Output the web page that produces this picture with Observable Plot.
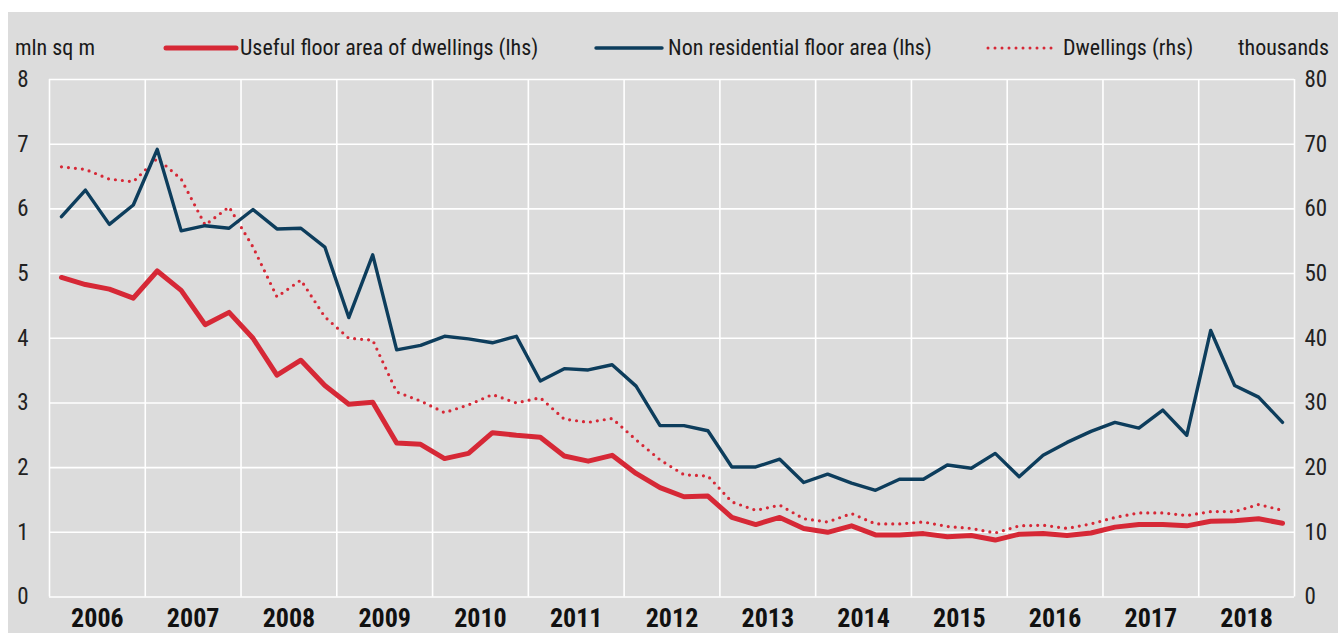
<!DOCTYPE html>
<html>
<head>
<meta charset="utf-8">
<script src="https://cdn.jsdelivr.net/npm/d3@7"></script>
<script src="https://cdn.jsdelivr.net/npm/@observablehq/plot@0.6"></script>
<style>
  html, body { margin: 0; padding: 0; background: #ffffff; }
  #wrap { position: relative; width: 1338px; height: 633px; overflow: hidden; background: #ffffff;
          font-family: "Liberation Sans Narrow", "Arial Narrow", "Roboto Condensed", "DejaVu Sans Condensed", sans-serif; }
  #panel { position: absolute; left: 8px; top: 12px; width: 1330px; height: 621px; background: #dcdcdc; }
  #legend { position: absolute; left: 0; top: 0; width: 1330px; height: 60px; font-size: 22px; color: #1a1a1a; }
  .lg { position: absolute; top: 24px; white-space: nowrap; line-height: 24px; }
  .sw { position: absolute; top: 24px; height: 24px; }
  #chart { position: absolute; left: -1px; top: 48px; }
</style>
</head>
<body>
<div id="wrap">
  <div id="panel">
    <div id="legend"></div>
    <div id="chart"></div>
  </div>
</div>
<script>
// ---- Data (quarterly, 2006Q1 .. 2018Q4) ----
const years = [2006, 2007, 2008, 2009, 2010, 2011, 2012, 2013, 2014, 2015, 2016, 2017, 2018];
const quarterNames = ["Q1", "Q2", "Q3", "Q4"];

// Useful floor area of dwellings (lhs, mln sq m)
const usefulFloorArea = [
  4.94, 4.83, 4.76, 4.62,
  5.04, 4.74, 4.21, 4.40,
  4.00, 3.43, 3.66, 3.27,
  2.98, 3.01, 2.38, 2.36,
  2.14, 2.22, 2.54, 2.50,
  2.47, 2.18, 2.10, 2.19,
  1.91, 1.69, 1.55, 1.56,
  1.23, 1.12, 1.23, 1.06,
  1.00, 1.10, 0.96, 0.96,
  0.98, 0.93, 0.95, 0.88,
  0.97, 0.98, 0.95, 0.99,
  1.08, 1.12, 1.12, 1.10,
  1.17, 1.18, 1.21, 1.14
];

// Non residential floor area (lhs, mln sq m)
const nonResidentialArea = [
  5.88, 6.29, 5.76, 6.06,
  6.92, 5.66, 5.74, 5.70,
  5.99, 5.69, 5.70, 5.41,
  4.32, 5.29, 3.82, 3.89,
  4.03, 3.99, 3.93, 4.03,
  3.34, 3.53, 3.51, 3.59,
  3.26, 2.65, 2.65, 2.57,
  2.01, 2.01, 2.13, 1.77,
  1.90, 1.76, 1.65, 1.82,
  1.82, 2.04, 1.99, 2.22,
  1.86, 2.19, 2.39, 2.56,
  2.70, 2.61, 2.89, 2.50,
  4.12, 3.27, 3.09, 2.70
];

// Dwellings (rhs, thousands)
const dwellings = [
  66.5, 66.1, 64.6, 64.2,
  67.8, 64.6, 57.5, 60.3,
  54.1, 46.4, 49.0, 43.3,
  40.0, 39.7, 31.7, 30.3,
  28.5, 29.7, 31.3, 30.0,
  30.8, 27.5, 27.0, 27.6,
  24.3, 21.2, 18.9, 18.7,
  14.7, 13.4, 14.2, 12.1,
  11.6, 12.9, 11.3, 11.3,
  11.6, 10.9, 10.6, 9.9,
  11.0, 11.1, 10.6, 11.3,
  12.3, 13.0, 13.0, 12.6,
  13.2, 13.2, 14.3, 13.4
];

const leftTicks = [0, 1, 2, 3, 4, 5, 6, 7, 8];
const rightTicks = [0, 10, 20, 30, 40, 50, 60, 70, 80];

const seriesNames = {
  useful: "Useful floor area of dwellings (lhs)",
  nonres: "Non residential floor area (lhs)",
  dw: "Dwellings (rhs)"
};
const unitLeft = "mln sq m";
const unitRight = "thousands";

const colors = { red: "#d62836", blue: "#0d3d5c", grid: "#ffffff", bg: "#dcdcdc", text: "#1a1a1a" };

// Table built from the arrays
const rows = [];
years.forEach((y, yi) => quarterNames.forEach((q, qi) => {
  const i = yi * 4 + qi;
  rows.push({ t: y + (qi + 0.5) / 4, useful: usefulFloorArea[i], nonres: nonResidentialArea[i], dw: dwellings[i] });
}));

const ratio = rightTicks[rightTicks.length - 1] / leftTicks[leftTicks.length - 1]; // rhs to lhs

const fontFam = '"Liberation Sans Narrow", "Arial Narrow", "Roboto Condensed", "DejaVu Sans Condensed", sans-serif';

const chart = Plot.plot({
  width: 1331,
  height: 573,
  marginLeft: 42,
  marginRight: 44,
  marginTop: 19,
  marginBottom: 36.5,
  style: { background: "transparent", fontFamily: fontFam, fontSize: "20px", color: colors.text },
  x: { domain: [years[0], years[years.length - 1] + 1] },
  y: { domain: [leftTicks[0], leftTicks[leftTicks.length - 1]] },
  marks: [
    Plot.ruleX(years.concat([years[years.length - 1] + 1]), { stroke: colors.grid, strokeWidth: 1.6 }),
    Plot.ruleY(leftTicks, { stroke: colors.grid, strokeWidth: 1.6 }),
    Plot.axisY({ anchor: "left", ticks: leftTicks, tickSize: 0, tickPadding: 21, label: null, fontSize: 23, fill: "#222" }),
    Plot.axisY({ anchor: "right", ticks: leftTicks, tickFormat: d => String(d * ratio), tickSize: 0, tickPadding: 10, label: null, fontSize: 23, fill: "#222" }),
    Plot.axisX({ ticks: years.map(y => y + 0.5), tickFormat: d => String(Math.floor(d)), tickSize: 0, tickPadding: 12, label: null, fontSize: 26, fontWeight: "bold", fill: "#111" }),
    Plot.line(rows, { x: "t", y: d => d.dw / ratio, stroke: colors.red, strokeWidth: 3.2, strokeDasharray: "0 7", strokeLinecap: "round" }),
    Plot.line(rows, { x: "t", y: "nonres", stroke: colors.blue, strokeWidth: 3.4 }),
    Plot.line(rows, { x: "t", y: "useful", stroke: colors.red, strokeWidth: 5 })
  ]
});
document.getElementById("chart").appendChild(chart);

// Legend (HTML above the SVG)
const lg = document.getElementById("legend");
function addText(txt, left) {
  const s = document.createElement("div"); s.className = "lg"; s.style.left = left + "px"; s.textContent = txt; lg.appendChild(s);
}
function addSwatch(left, width, color, sw, dash) {
  const ns = "http://www.w3.org/2000/svg";
  const svg = document.createElementNS(ns, "svg");
  svg.setAttribute("width", width); svg.setAttribute("height", 24);
  svg.setAttribute("class", "sw"); svg.style.left = left + "px";
  const l = document.createElementNS(ns, "line");
  l.setAttribute("x1", 3); l.setAttribute("x2", width - 3); l.setAttribute("y1", 12); l.setAttribute("y2", 12);
  l.setAttribute("stroke", color); l.setAttribute("stroke-width", sw); l.setAttribute("stroke-linecap", "round");
  if (dash) l.setAttribute("stroke-dasharray", dash);
  svg.appendChild(l); lg.appendChild(svg);
}
addText(unitLeft, 7);
addSwatch(155, 76, colors.red, 5);
addText(seriesNames.useful, 232);
addSwatch(585, 72, colors.blue, 3.4);
addText(seriesNames.nonres, 660);
addSwatch(977, 74, colors.red, 3, "0 7");
addText(seriesNames.dw, 1055);
addText(unitRight, 1230);
</script>
</body>
</html>
